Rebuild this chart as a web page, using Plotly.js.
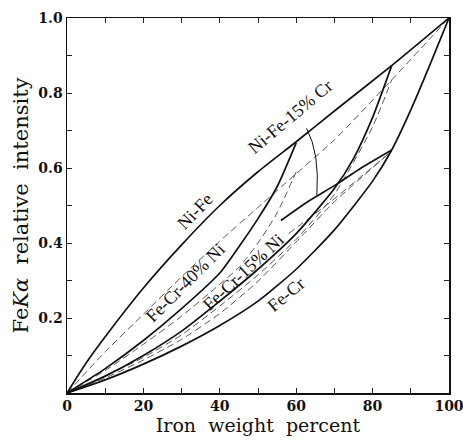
<!DOCTYPE html>
<html>
<head>
<meta charset="utf-8">
<script src="https://cdn.plot.ly/plotly-3.0.1.min.js"></script>
<style>html,body{margin:0;padding:0;background:#fff;}#chart{width:463px;height:444px;}</style>
</head>
<body>
<div id="chart"></div>
<script>
// Measured curves (solid)
const niFeX = [0, 5, 10, 20, 30, 40, 50, 60, 70, 85, 100];
const niFeY = [0, 0.08, 0.15, 0.28, 0.395, 0.50, 0.59, 0.67, 0.752, 0.873, 1.0];

const feCr40NiX = [0, 10, 20, 30, 40, 45, 50, 55, 60];
const feCr40NiY = [0, 0.065, 0.14, 0.225, 0.32, 0.39, 0.465, 0.55, 0.667];

const feCr15NiX = [0, 10, 20, 30, 40, 50, 60, 70, 75, 80, 85];
const feCr15NiY = [0, 0.045, 0.10, 0.165, 0.245, 0.33, 0.425, 0.545, 0.625, 0.735, 0.873];

const niFe15CrX = [56, 63, 70, 77, 85];
const niFe15CrY = [0.46, 0.51, 0.553, 0.6, 0.648];

const feCrX = [0, 10, 20, 30, 40, 50, 60, 70, 80, 85, 90, 95, 100];
const feCrY = [0, 0.035, 0.077, 0.125, 0.18, 0.245, 0.33, 0.435, 0.565, 0.648, 0.755, 0.875, 1.0];

// Calculated curves (dashed)
const niFeCalcX = [0, 10, 20, 30, 40, 50, 60, 70, 85, 100];
const niFeCalcY = [0, 0.11, 0.21, 0.31, 0.405, 0.495, 0.585, 0.675, 0.835, 1.0];

const feCr40NiCalcX = [0, 10, 20, 30, 40, 45, 50, 55, 60];
const feCr40NiCalcY = [0, 0.06, 0.13, 0.205, 0.29, 0.335, 0.40, 0.48, 0.59];

const feCr15NiCalcX = [0, 10, 20, 30, 40, 50, 60, 70, 80, 85];
const feCr15NiCalcY = [0, 0.045, 0.095, 0.155, 0.232, 0.315, 0.41, 0.53, 0.71, 0.835];

const niFe15CrCalcX = [58, 69, 85];
const niFe15CrCalcY = [0.425, 0.51, 0.645];

const feCrCalcX = [0, 10, 20, 30, 40, 50, 60, 70, 85];
const feCrCalcY = [0, 0.04, 0.088, 0.143, 0.212, 0.298, 0.403, 0.51, 0.645];

// Tick labels
const xTickVals = [0, 10, 20, 30, 40, 50, 60, 70, 80, 90, 100];
const xTickText = ['0', '', '20', '', '40', '', '60', '', '80', '', '100'];
const yTickVals = [0, 0.1, 0.2, 0.3, 0.4, 0.5, 0.6, 0.7, 0.8, 0.9, 1.0];
const yTickText = ['', '', '0.2', '', '0.4', '', '0.6', '', '0.8', '', '1.0'];

// Curve labels
const labelTexts = ['Ni-Fe', 'Ni-Fe-15% Cr', 'Fe-Cr-40% Ni', 'Fe-Cr-15% Ni', 'Fe-Cr'];
const labelX = [33.6, 58.4, 30.9, 46.2, 57.2];
const labelY = [0.485, 0.735, 0.293, 0.322, 0.262];
const labelAngle = [-46, -40, -45, -43, -40];

const solid = {color: '#111', width: 1.7};
const dashed = {color: '#555', width: 1, dash: '7px,4px'};

function tr(x, y, line, smooth) {
  return {x: x, y: y, type: 'scatter', mode: 'lines', hoverinfo: 'skip', showlegend: false,
          line: Object.assign({shape: 'spline', smoothing: smooth}, line)};
}

const data = [
  tr(niFeCalcX, niFeCalcY, dashed, 0.5),
  tr(feCr40NiCalcX, feCr40NiCalcY, dashed, 0.6),
  tr(feCr15NiCalcX, feCr15NiCalcY, dashed, 0.6),
  tr(niFe15CrCalcX, niFe15CrCalcY, dashed, 0.5),
  tr(feCrCalcX, feCrCalcY, dashed, 0.6),
  tr(niFeX, niFeY, solid, 0.6),
  tr(feCr40NiX, feCr40NiY, solid, 0.6),
  tr(feCr15NiX, feCr15NiY, solid, 0.6),
  tr(niFe15CrX, niFe15CrY, solid, 0.5),
  tr(feCrX, feCrY, solid, 0.6)
];

const serif = '"DejaVu Serif", "Liberation Serif", serif';
const serif2 = '"Liberation Serif", "DejaVu Serif", serif';

const annotations = labelTexts.map((t, i) => ({
  x: labelX[i], y: labelY[i], xref: 'x', yref: 'y', text: t, showarrow: false,
  textangle: labelAngle[i], font: {family: serif2, size: 18, color: '#111'}
}));

const layout = {
  width: 463, height: 444,
  margin: {l: 67, r: 14, t: 18, b: 51},
  paper_bgcolor: '#fff', plot_bgcolor: '#fff',
  xaxis: {
    range: [0, 100], tickmode: 'array', tickvals: xTickVals, ticktext: xTickText,
    ticks: 'inside', ticklen: 5, tickwidth: 1, tickcolor: '#222',
    showline: true, linecolor: '#111', linewidth: 1.5, mirror: 'ticks',
    showgrid: false, zeroline: false, ticklabeloverflow: 'allow',
    tickfont: {family: serif, size: 14, color: '#111', weight: 'bold'},
    title: {text: 'Iron  weight  percent', font: {family: serif, size: 19, color: '#111'}, standoff: 4}
  },
  yaxis: {
    range: [0, 1], tickmode: 'array', tickvals: yTickVals, ticktext: yTickText,
    ticks: 'inside', ticklen: 5, tickwidth: 1, tickcolor: '#222',
    showline: true, linecolor: '#111', linewidth: 1.5, mirror: 'ticks',
    showgrid: false, zeroline: false, ticklabeloverflow: 'allow',
    tickfont: {family: serif, size: 14, color: '#111', weight: 'bold'},
    title: {text: 'Fe<i>K</i><i>α</i>  relative  intensity', font: {family: serif, size: 21, color: '#111'}, standoff: 4}
  },
  shapes: [{
    type: 'path', xref: 'x', yref: 'y',
    path: 'M 62.7 0.706 Q 66.2 0.64 65.4 0.528',
    line: {color: '#111', width: 1}
  }],
  annotations: annotations
};

Plotly.newPlot('chart', data, layout, {staticPlot: true, displayModeBar: false});
</script>
</body>
</html>
